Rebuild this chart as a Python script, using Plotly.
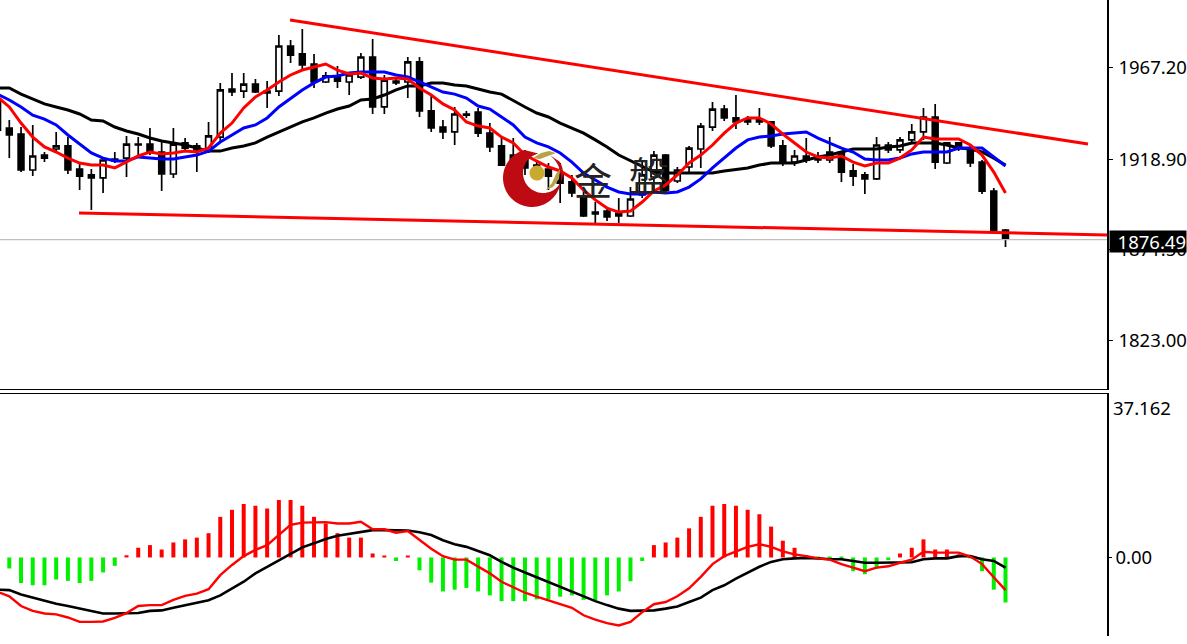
import numpy as np
import plotly.graph_objects as go

W, H = 1187, 644

# Candles: index -1 .. 85 (oldest candle is partly cut off at the left edge)
candle_index = list(range(-1, 86))
high = [1950.3,1939.7,1936.0,1937.1,1922.8,1933.4,1930.7,1917.0,1913.8,1918.6,1922.8,1931.3,1930.7,1935.5,1928.1,1935.5,1930.2,1927.6,1938.7,1959.3,1964.5,1964.5,1961.4,1960.3,1984.6,1982.0,1987.8,1974.6,1965.1,1968.2,1965.1,1975.1,1982.5,1963.5,1961.9,1973.0,1973.0,1952.9,1939.7,1946.6,1944.5,1946.1,1938.1,1930.7,1930.2,1923.9,1918.6,1917.0,1917.0,1910.7,1902.7,1896.4,1893.2,1898.5,1904.3,1918.6,1923.3,1921.8,1914.9,1926.0,1938.1,1949.2,1947.6,1952.9,1941.8,1946.1,1938.7,1929.2,1923.9,1930.2,1922.8,1930.7,1923.3,1916.5,1912.2,1930.7,1928.1,1930.7,1937.6,1946.1,1948.2,1928.1,1928.1,1926.5,1918.6,1903.8,1882.1]
low = [1931.8,1919.6,1912.2,1910.1,1917.5,1922.8,1911.2,1902.7,1892.2,1901.2,1917.0,1909.6,1920.2,1921.2,1902.2,1909.1,1922.8,1912.2,1922.3,1928.1,1952.4,1951.3,1954.0,1946.1,1952.4,1969.8,1966.7,1956.6,1959.3,1956.6,1952.9,1961.4,1942.9,1942.9,1958.2,1951.3,1941.3,1933.4,1929.7,1926.5,1940.8,1930.7,1922.8,1915.4,1910.7,1910.7,1908.0,1902.7,1895.9,1899.0,1888.5,1885.3,1886.4,1885.3,1888.5,1898.5,1901.2,1901.2,1906.4,1912.2,1914.4,1933.9,1939.2,1935.0,1937.1,1937.1,1924.9,1915.4,1915.4,1917.0,1917.0,1917.0,1907.0,1904.9,1900.6,1908.0,1922.3,1922.3,1927.6,1929.2,1913.8,1916.5,1923.3,1914.9,1900.6,1880.6,1872.6]
open_ = [1950.3,1935.5,1932.3,1913.3,1921.2,1924.4,1926.0,1913.8,1910.7,1909.1,1918.1,1919.6,1926.5,1927.0,1922.8,1911.2,1927.6,1926.0,1923.3,1930.7,1956.1,1955.0,1958.7,1954.0,1955.0,1978.8,1974.6,1969.3,1959.8,1963.0,1959.8,1962.4,1973.0,1946.6,1960.3,1959.8,1970.4,1944.5,1936.0,1933.4,1942.3,1943.9,1932.8,1926.0,1921.2,1919.1,1915.9,1913.8,1910.7,1907.0,1899.6,1890.1,1891.6,1890.6,1889.0,1900.1,1909.6,1921.2,1907.5,1914.9,1924.4,1936.0,1945.5,1940.8,1938.7,1940.2,1938.7,1926.0,1917.5,1920.7,1918.6,1918.6,1922.8,1912.8,1910.7,1908.6,1926.5,1923.9,1929.2,1933.4,1941.3,1917.0,1927.6,1924.9,1917.5,1902.2,1881.6]
close = [1934.4,1931.8,1913.3,1920.7,1919.6,1926.0,1913.3,1910.1,1909.1,1918.6,1919.1,1927.0,1927.0,1923.3,1911.2,1927.0,1924.9,1923.9,1931.3,1955.6,1954.5,1958.7,1954.5,1955.0,1978.8,1974.0,1968.8,1959.8,1963.0,1960.3,1963.5,1973.0,1946.6,1960.8,1959.3,1970.4,1944.5,1935.5,1933.4,1942.9,1942.9,1932.8,1925.5,1915.9,1914.4,1914.4,1912.2,1910.1,1906.4,1901.2,1889.0,1891.1,1888.5,1889.0,1898.0,1910.7,1921.2,1902.7,1913.3,1924.9,1936.5,1945.5,1940.8,1938.7,1940.2,1938.7,1926.0,1917.0,1920.7,1918.6,1919.1,1922.8,1912.2,1910.1,1908.6,1926.5,1923.9,1929.2,1933.4,1941.3,1917.5,1927.6,1924.9,1917.0,1902.2,1881.6,1876.9]

ma_red = [1951.9,1946.6,1938.1,1930.7,1925.5,1922.8,1919.6,1917.0,1915.9,1915.9,1914.4,1917.5,1920.7,1922.8,1921.8,1922.3,1923.3,1922.8,1924.9,1932.8,1938.1,1946.1,1951.9,1955.6,1959.8,1963.5,1966.1,1967.7,1969.3,1966.1,1964.0,1964.5,1961.9,1961.4,1961.9,1961.4,1956.6,1952.9,1948.2,1945.0,1938.7,1936.5,1935.5,1930.7,1927.6,1921.2,1918.1,1914.9,1912.8,1909.1,1902.7,1897.5,1893.2,1891.1,1891.6,1896.4,1902.2,1905.4,1910.7,1917.0,1921.2,1926.5,1932.8,1938.1,1940.8,1940.8,1937.6,1932.3,1927.6,1922.8,1920.2,1919.6,1920.7,1917.5,1915.4,1917.0,1917.0,1919.6,1923.9,1930.7,1929.7,1929.7,1929.7,1926.5,1921.2,1912.2,1901.2]
ma_blue = [1953.4,1950.3,1946.6,1942.3,1940.2,1937.1,1931.8,1927.0,1922.3,1919.6,1918.1,1918.1,1920.2,1919.6,1919.1,1919.1,1920.2,1921.2,1923.3,1928.1,1931.8,1935.5,1937.1,1940.8,1946.6,1951.3,1955.6,1959.3,1962.4,1963.0,1964.5,1965.1,1965.1,1965.1,1963.5,1962.4,1959.8,1957.1,1954.5,1953.4,1951.3,1947.1,1945.5,1941.3,1937.1,1930.7,1927.6,1925.5,1922.3,1917.5,1911.7,1908.0,1904.3,1901.7,1900.6,1900.6,1901.7,1901.2,1901.7,1904.3,1908.6,1914.4,1919.6,1924.9,1929.2,1930.7,1931.3,1932.3,1932.8,1933.4,1930.2,1927.6,1924.9,1922.8,1919.1,1918.6,1918.6,1919.6,1921.8,1922.8,1922.8,1922.8,1924.9,1924.9,1924.9,1920.2,1915.4]
ma_black = [1956.6,1956.6,1953.4,1950.8,1948.2,1946.6,1945.0,1942.9,1939.7,1939.2,1936.0,1933.9,1932.3,1930.2,1928.6,1927.6,1926.5,1924.9,1923.3,1923.3,1924.9,1926.0,1927.6,1930.7,1933.4,1936.0,1938.7,1940.8,1943.4,1945.5,1947.1,1950.3,1950.8,1952.9,1955.6,1957.7,1957.7,1959.3,1959.3,1958.2,1957.7,1956.1,1954.5,1953.4,1949.8,1946.6,1943.4,1941.3,1938.1,1935.5,1932.8,1929.2,1925.5,1921.2,1918.1,1914.9,1912.2,1911.7,1911.7,1911.7,1911.7,1911.7,1912.8,1913.8,1914.4,1915.9,1917.0,1917.0,1917.0,1918.6,1920.2,1921.2,1922.8,1924.4,1924.4,1924.4,1925.5,1926.0,1927.6,1927.6,1927.6,1926.5,1924.9,1924.4,1922.8,1919.6,1915.9]

# Trend lines (candle index, price)
upper_trend_x = [23.95, 92.04]
upper_trend_y = [1992.5, 1927.0]
lower_trend_x = [5.95, 93.66]
lower_trend_y = [1890.6, 1879.0]
last_price = 1876.49

# MACD pane: index 0 .. 85 for the histogram, -1 .. 85 for the lines
hist_index = list(range(0, 86))
macd_hist = [-2.5,-5.8,-6.3,-6.3,-5.0,-5.3,-5.8,-5.3,-3.4,-1.9,0.5,2.2,2.8,1.8,3.4,4.1,4.5,5.5,9.2,10.8,12.1,11.7,11.1,13.0,13.0,11.7,9.2,7.7,5.5,4.5,4.5,0.9,0.3,-0.8,0.3,-2.9,-5.7,-7.7,-7.3,-6.9,-7.7,-8.6,-9.9,-9.9,-9.9,-9.5,-9.5,-8.9,-8.6,-9.6,-9.7,-8.6,-7.7,-5.4,-0.8,2.8,3.4,4.5,6.6,9.2,11.7,12.1,11.7,10.8,9.8,7.0,3.8,2.2,0.5,-0.2,-0.3,-0.3,-3.1,-3.8,-2.5,-0.6,0.9,2.2,4.1,1.8,1.8,0.7,-0.2,-3.1,-7.3,-10.2]
macd_red = [-7.8,-8.8,-11.0,-12.1,-12.7,-12.9,-13.6,-14.6,-14.6,-14.5,-13.7,-12.6,-11.0,-10.8,-10.8,-9.6,-8.7,-8.2,-7.2,-4.0,-1.7,0.3,1.7,2.8,5.1,7.4,7.9,8.0,8.0,7.7,7.7,8.1,6.4,6.4,5.6,6.0,3.9,2.0,0.3,-0.5,-0.5,-2.0,-3.6,-5.5,-6.7,-8.0,-8.9,-9.7,-10.6,-11.4,-13.1,-14.1,-14.9,-15.4,-14.6,-12.4,-10.6,-10.1,-8.8,-7.0,-4.4,-1.5,0.3,1.3,2.4,3.0,2.4,1.4,0.7,0.3,-0.2,-0.5,-1.5,-2.3,-3.1,-2.3,-2.0,-1.2,-0.5,1.3,1.1,1.1,1.1,0.2,-1.5,-4.5,-7.4]
macd_black = [-7.3,-7.4,-8.4,-9.1,-9.7,-10.5,-11.0,-11.6,-12.2,-12.7,-12.7,-12.7,-12.6,-12.1,-12.0,-11.4,-10.8,-10.3,-9.7,-8.6,-7.0,-5.5,-3.6,-2.1,-0.6,0.9,2.3,3.2,4.2,4.9,5.3,5.8,6.2,6.2,6.1,6.1,5.7,5.1,3.9,3.0,2.4,1.4,0.5,-1.0,-2.3,-3.4,-4.5,-5.5,-6.7,-7.7,-8.8,-9.9,-10.8,-11.6,-12.1,-12.1,-12.0,-11.6,-11.1,-10.1,-9.1,-7.4,-6.3,-4.8,-3.5,-2.1,-1.0,-0.4,-0.2,-0.1,-0.2,-0.4,-0.4,-0.8,-1.2,-1.2,-1.2,-1.2,-1.1,-0.4,-0.2,-0.2,0.3,0.3,-0.4,-0.8,-2.3]

price_ticks = [1967.20, 1918.90, 1871.50, 1823.00]
price_tick_labels = ["1967.20", "1918.90", "1871.50", "1823.00"]

FONT = "Noto Sans"
RED, BLUE, BLACK, GREEN = "#FF0000", "#0000FF", "#000000", "#00F000"

fig = go.Figure()
fig.add_trace(go.Candlestick(
    x=candle_index, open=open_, high=high, low=low, close=close,
    increasing=dict(line=dict(color=BLACK, width=1.7), fillcolor="#FFFFFF"),
    decreasing=dict(line=dict(color=BLACK, width=1.7), fillcolor=BLACK),
    whiskerwidth=0, showlegend=False, xaxis="x", yaxis="y"))
for vals, col in ((ma_black, BLACK), (ma_blue, BLUE), (ma_red, RED)):
    fig.add_trace(go.Scatter(x=candle_index, y=vals, mode="lines",
                             line=dict(color=col, width=3.0), showlegend=False,
                             xaxis="x", yaxis="y"))
fig.add_trace(go.Scatter(x=[-10, 100], y=[last_price, last_price], mode="lines",
                         line=dict(color="#C0C0C0", width=1.2), showlegend=False,
                         xaxis="x", yaxis="y"))
for xs, ys in ((upper_trend_x, upper_trend_y), (lower_trend_x, lower_trend_y)):
    fig.add_trace(go.Scatter(x=xs, y=ys, mode="lines",
                             line=dict(color=RED, width=3.0), showlegend=False,
                             xaxis="x", yaxis="y"))

fig.add_trace(go.Bar(x=hist_index, y=macd_hist, width=0.34,
                     marker=dict(color=[RED if v > 0 else GREEN for v in macd_hist], line_width=0),
                     showlegend=False, xaxis="x2", yaxis="y2"))
fig.add_trace(go.Scatter(x=candle_index, y=macd_black, mode="lines",
                         line=dict(color=BLACK, width=2.6), showlegend=False,
                         xaxis="x2", yaxis="y2"))
fig.add_trace(go.Scatter(x=candle_index, y=macd_red, mode="lines",
                         line=dict(color=RED, width=2.4), showlegend=False,
                         xaxis="x2", yaxis="y2"))

x_rng = [-0.794, 93.66]
PLOT_R = 1107 / W
fy = lambda y: 1 - y / H
fx = lambda x: x / W


def poly(points):
    return "M" + " L".join(f"{fx(a):.5f},{fy(b):.5f}" for a, b in points) + " Z"


# Crescent of the watermark logo
t = np.linspace(0, 2 * np.pi, 90)
a_out = np.radians(-55) + np.linspace(0, 1.72 * np.pi, 70)
a_in = np.radians(-35) + np.linspace(1.62 * np.pi, 0, 60)
crescent = [(532 + 29 * np.cos(a), 178 + 29 * np.sin(a)) for a in a_out] + \
           [(543 + 20 * np.cos(a), 173 + 20 * np.sin(a)) for a in a_in]
ball = [(537 + 7.5 * np.cos(a), 173 + 7.5 * np.sin(a)) for a in t]
leaf_top = [(533, 158), (541, 153), (549, 151), (556, 153), (548, 156), (540, 159)]
leaf_low = [(546, 190), (552, 183), (556, 174), (560, 169), (559, 179), (553, 187)]

shapes = [
    dict(type="path", xref="paper", yref="paper", path=poly(crescent), fillcolor="#BE0A12", line=dict(width=0), layer="above"),
    dict(type="path", xref="paper", yref="paper", path=poly(ball), fillcolor="#C9A92E", line=dict(width=0), layer="above"),
    dict(type="path", xref="paper", yref="paper", path=poly(leaf_top), fillcolor="#B9A243", line=dict(width=0), layer="above"),
    dict(type="path", xref="paper", yref="paper", path=poly(leaf_low), fillcolor="#B9A243", line=dict(width=0), layer="above"),
]

annotations = [
    dict(text="金", xref="paper", yref="paper", x=fx(593), y=fy(178), xanchor="center", yanchor="middle", showarrow=False,
         font=dict(family="Noto Sans CJK SC", size=38, color="#222222")),
    dict(text="盤", xref="paper", yref="paper", x=fx(649), y=fy(174), xanchor="center", yanchor="middle", showarrow=False,
         font=dict(family="Noto Sans CJK TC", size=40, color="#222222")),
    dict(text="37.162", xref="paper", yref="paper", x=fx(1111), y=fy(407), xanchor="left", yanchor="middle", showarrow=False,
         font=dict(family=FONT, size=18.5, color=BLACK)),
    dict(text="1876.49", xref="paper", yref="paper", x=fx(1109), y=fy(241), xanchor="left", yanchor="middle",
         width=76, height=21, align="right", showarrow=False, borderpad=0,
         bgcolor=BLACK, font=dict(family=FONT, size=18.5, color="#FFFFFF")),
]

fig.update_layout(
    width=W, height=H, margin=dict(l=0, r=0, t=0, b=0),
    paper_bgcolor="#FFFFFF", plot_bgcolor="#FFFFFF", showlegend=False, barmode="overlay",
    shapes=shapes, annotations=annotations,
    xaxis=dict(domain=[0, PLOT_R], range=x_rng, showgrid=False, zeroline=False, showticklabels=False, ticks="",
               rangeslider=dict(visible=False), showline=True, linecolor=BLACK, linewidth=1.3, anchor="y"),
    xaxis2=dict(domain=[0, PLOT_R], range=x_rng, showgrid=False, zeroline=False, showticklabels=False, ticks="",
                showline=True, linecolor=BLACK, linewidth=1.3, anchor="y2", side="top"),
    yaxis=dict(domain=[fy(388.5), 1], range=[1797.9, 2003.1], side="right", anchor="x",
               showgrid=False, zeroline=False, showline=True, linecolor=BLACK, linewidth=1.5,
               tickmode="array", tickvals=price_ticks, ticktext=price_tick_labels,
               ticks="outside", ticklen=4, tickcolor=BLACK, tickwidth=1, ticklabelstandoff=2,
               tickfont=dict(family=FONT, size=18.5, color=BLACK)),
    yaxis2=dict(domain=[fy(636), fy(393.5)], range=[-17.8, 37.162], side="right", anchor="x2",
                showgrid=False, zeroline=False, showline=True, linecolor=BLACK, linewidth=1.5,
                tickmode="array", tickvals=[0], ticktext=["0.00"],
                ticks="outside", ticklen=3, tickcolor=BLACK, tickwidth=1, ticklabelstandoff=0,
                tickfont=dict(family=FONT, size=18.5, color=BLACK)),
)

clip_css = ("var s=document.createElement('style');"
            "s.textContent='html,body{margin:0;overflow:hidden;width:1187px;height:644px}"
            ".plotly-graph-div,.svg-container,.main-svg{overflow:hidden !important}';"
            "document.head.appendChild(s);")
fig.write_html("out.html", config={"displayModeBar": False}, post_script=clip_css)
